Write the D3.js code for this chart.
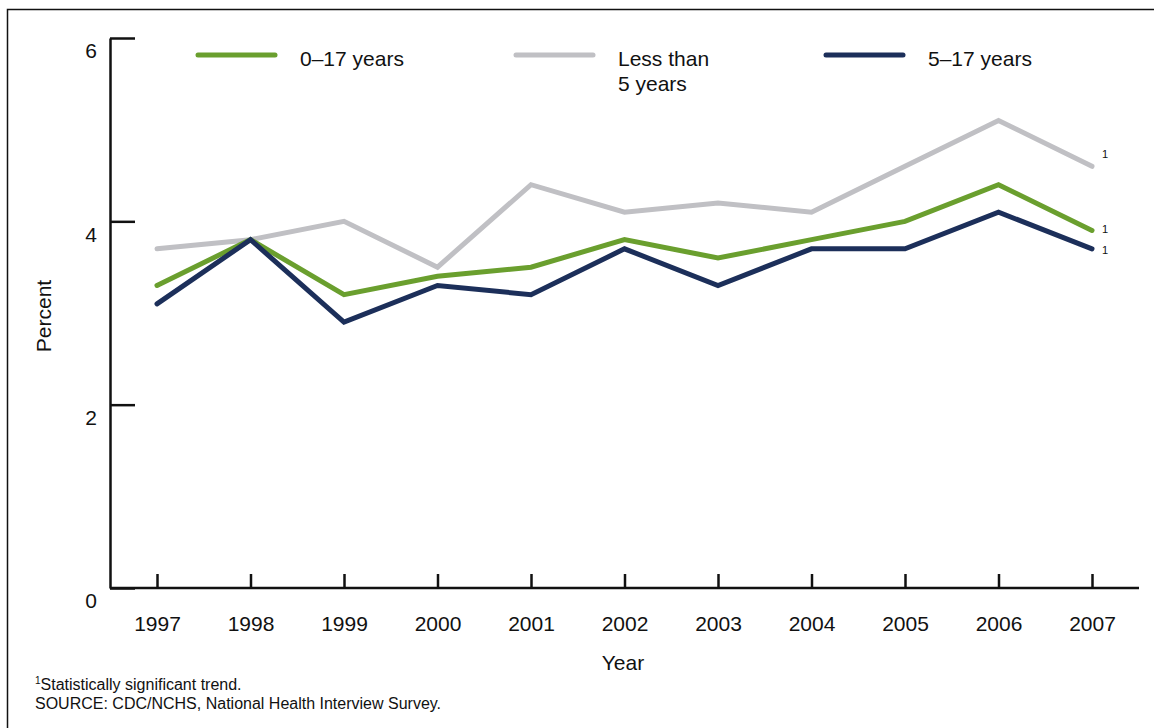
<!DOCTYPE html>
<html>
<head>
<meta charset="utf-8">
<script src="https://cdn.jsdelivr.net/npm/d3@7"></script>
<style>
  body { margin: 0; background: #fff; }
  svg text { font-family: "Liberation Sans", Arial, sans-serif; fill: #111; }
</style>
</head>
<body>
<div id="chart"></div>
<script>
// data
var years = [1997, 1998, 1999, 2000, 2001, 2002, 2003, 2004, 2005, 2006, 2007];
var age0to17 = [3.3, 3.8, 3.2, 3.4, 3.5, 3.8, 3.6, 3.8, 4.0, 4.4, 3.9];
var ageUnder5 = [3.7, 3.8, 4.0, 3.5, 4.4, 4.1, 4.2, 4.1, 4.6, 5.1, 4.6];
var age5to17 = [3.1, 3.8, 2.9, 3.3, 3.2, 3.7, 3.3, 3.7, 3.7, 4.1, 3.7];
var yTicks = [0, 2, 4, 6];

var seriesList = [
  { name: ["0\u201317 years"], values: age0to17, color: "#6a9f2e", legendX: 198 },
  { name: ["Less than", "5 years"], values: ageUnder5, color: "#c0c0c4", legendX: 516 },
  { name: ["5\u201317 years"], values: age5to17, color: "#1c2f5a", legendX: 826 }
];

// svg container
var svgWidth = 1154;
var svgHeight = 728;

var svg = d3.select("#chart").append("svg")
  .attr("width", svgWidth)
  .attr("height", svgHeight);

// frame (top and left edges only)
svg.append("path")
  .attr("d", "M7.5,728 V9.5 H1154")
  .attr("fill", "none")
  .attr("stroke", "#111")
  .attr("stroke-width", 1.5);

// scales
var xScale = d3.scaleLinear().domain([1997, 2007]).range([157, 1092]);
var yScale = d3.scaleLinear().domain([0, 6]).range([588, 38]);

// y axis, ticks pointing inward
var yAxis = d3.axisLeft(yScale)
  .tickValues(yTicks)
  .tickSizeInner(-25)
  .tickSizeOuter(0)
  .tickPadding(13)
  .tickFormat(d3.format("d"));

var yAxisG = svg.append("g")
  .attr("transform", "translate(110,0)")
  .call(yAxis);
yAxisG.select(".domain").attr("stroke", "#111").attr("stroke-width", 2.5);
yAxisG.selectAll(".tick line").attr("stroke", "#111").attr("stroke-width", 2.5);
yAxisG.selectAll(".tick text")
  .attr("dy", "0.95em")
  .style("font-size", "21px")
  .style("font-family", "Liberation Sans, Arial, sans-serif")
  .attr("fill", "#111");

// x axis
svg.append("line")
  .attr("x1", 110).attr("x2", 1139)
  .attr("y1", 588).attr("y2", 588)
  .attr("stroke", "#111")
  .attr("stroke-width", 2.5);

var xAxis = d3.axisBottom(xScale)
  .tickValues(years)
  .tickSizeInner(-14)
  .tickSizeOuter(0)
  .tickPadding(28)
  .tickFormat(d3.format("d"));

var xAxisG = svg.append("g")
  .attr("transform", "translate(0,588)")
  .call(xAxis);
xAxisG.select(".domain").remove();
xAxisG.selectAll(".tick line").attr("stroke", "#111").attr("stroke-width", 2.5);
xAxisG.selectAll(".tick text")
  .style("font-size", "21px")
  .style("font-family", "Liberation Sans, Arial, sans-serif")
  .attr("fill", "#111");

// axis titles
svg.append("text")
  .attr("transform", "translate(51,316) rotate(-90)")
  .attr("text-anchor", "middle")
  .style("font-size", "21px")
  .text("Percent");

svg.append("text")
  .attr("x", 623)
  .attr("y", 670)
  .attr("text-anchor", "middle")
  .style("font-size", "21px")
  .text("Year");

// lines
var line = d3.line()
  .x(function(d, i) { return xScale(years[i]); })
  .y(function(d) { return yScale(d); });

// draw gray first so the others sit on top
[seriesList[1], seriesList[0], seriesList[2]].forEach(function(s) {
  svg.append("path")
    .datum(s.values)
    .attr("d", line)
    .attr("fill", "none")
    .attr("stroke", s.color)
    .attr("stroke-width", 5)
    .attr("stroke-linecap", "round")
    .attr("stroke-linejoin", "miter");
});

// significance markers at 2007
var markerShift = [2, -8, 5];
seriesList.forEach(function(s, i) {
  var last = s.values[s.values.length - 1];
  svg.append("text")
    .attr("x", xScale(2007) + 10)
    .attr("y", yScale(last) + markerShift[i])
    .style("font-size", "11px")
    .text("1");
});

// legend
seriesList.forEach(function(s) {
  svg.append("line")
    .attr("x1", s.legendX).attr("x2", s.legendX + 77)
    .attr("y1", 55).attr("y2", 55)
    .attr("stroke", s.color)
    .attr("stroke-width", 5)
    .attr("stroke-linecap", "round");

  s.name.forEach(function(t, i) {
    svg.append("text")
      .attr("x", s.legendX + 102)
      .attr("y", 66 + i * 25)
      .style("font-size", "21px")
      .text(t);
  });
});

// footnotes
var note = svg.append("text")
  .attr("x", 35)
  .attr("y", 690)
  .style("font-size", "16px");
note.append("tspan")
  .attr("dy", "-6")
  .style("font-size", "10px")
  .text("1");
note.append("tspan")
  .attr("dy", "6")
  .text("Statistically significant trend.");

svg.append("text")
  .attr("x", 35)
  .attr("y", 709)
  .style("font-size", "16px")
  .text("SOURCE: CDC/NCHS, National Health Interview Survey.");
</script>
</body>
</html>
